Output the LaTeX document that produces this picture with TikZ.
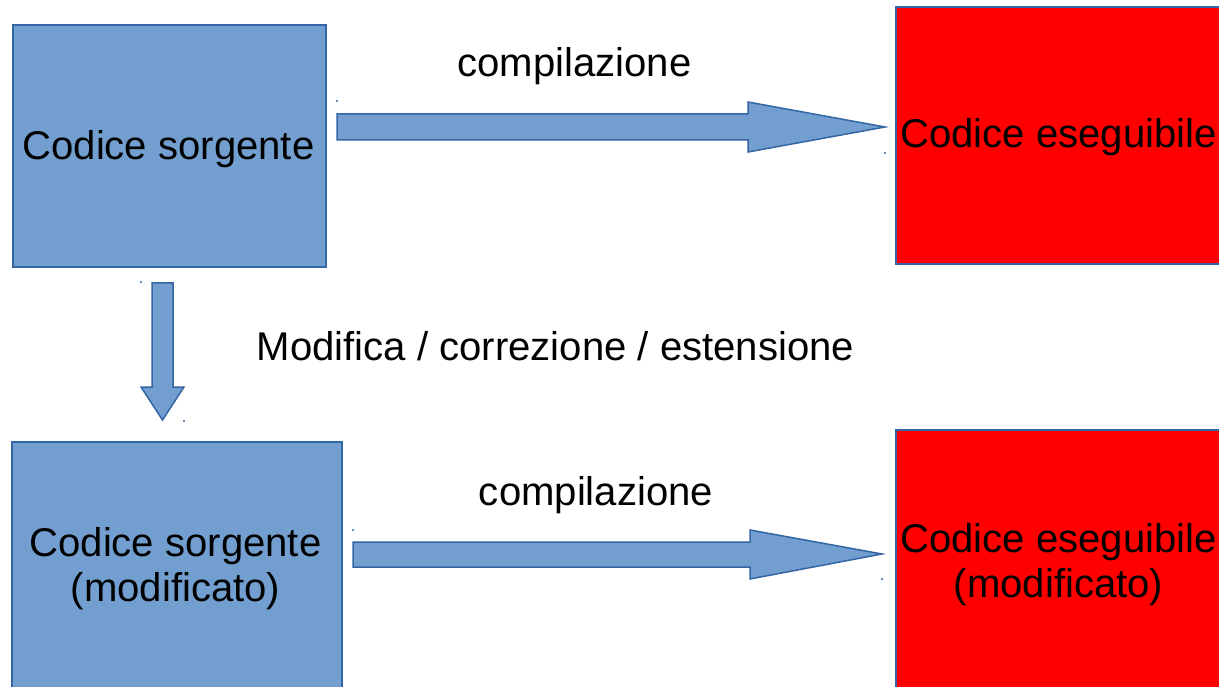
\documentclass[tikz,border=0pt]{standalone}
\usepackage{fontspec}
\setmainfont{Liberation Sans}
\definecolor{lofill}{HTML}{729FCF}
\definecolor{loline}{HTML}{3465A4}
\definecolor{lored}{HTML}{FF0000}
\tikzset{
  bluebox/.style={draw=loline, fill=lofill, line width=1.6pt, rectangle, inner sep=0pt, anchor=north west},
  redbox/.style={draw=loline, fill=lored, line width=1.6pt, rectangle, inner sep=0pt, anchor=north west},
  blockarrow/.style={draw=loline, fill=lofill, line width=1.5pt, line join=miter},
  handle/.style={fill=loline, draw=none},
  lbl/.style={font=\fontsize{40.1}{44.5}\selectfont, anchor=base, inner sep=0pt, align=center, text=black}
}
\begin{document}
\begin{tikzpicture}[x=1pt, y=-1pt]
\useasboundingbox (0,0) rectangle (1219,687);
\clip (0,0) rectangle (1219,687);
% boxes
\node[bluebox, minimum width=313pt, minimum height=242pt] (src) at (12,24) {};
\node[redbox, minimum width=340pt, minimum height=257pt] (exe) at (895,6) {};
\node[bluebox, minimum width=330pt, minimum height=260pt] (srcm) at (11,441) {};
\node[redbox, minimum width=340pt, minimum height=270pt] (exem) at (895,429) {};
% texts
\node[lbl] (tsrc) at (168.5,160) {Codice sorgente};
\node[lbl] (texe) at (1058.5,148) {Codice eseguibile};
\node[lbl] (tsrcm) at (175.5,601) {Codice sorgente\\(modificato)};
\node[lbl] (texem) at (1058.5,597) {Codice eseguibile\\(modificato)};
\node[lbl] (c1) at (574.5,77) {compilazione};
\node[lbl] (c2) at (596,505) {compilazione};
\node[lbl] (mod) at (555.5,360) {Modifica / correzione / estensione};
% block arrows
\draw[blockarrow] (337,114) -- (748,114) -- (748,102) -- (885,127) -- (748,152) -- (748,140) -- (337,140) -- cycle;
\draw[blockarrow] (353,542) -- (750,542) -- (750,530) -- (882,554) -- (750,579) -- (750,567) -- (353,567) -- cycle;
\draw[blockarrow] (152,283) -- (173,283) -- (173,387) -- (184,387) -- (162.5,420) -- (141,387) -- (152,387) -- cycle;
% selection handles (tiny dots)
\fill[handle] (337,101) circle (1.2pt);
\fill[handle] (885,153) circle (1.2pt);
\fill[handle] (353,530) circle (1.2pt);
\fill[handle] (882,579) circle (1.2pt);
\fill[handle] (141,282) circle (1.2pt);
\fill[handle] (184,421) circle (1.2pt);
\end{tikzpicture}
\end{document}
